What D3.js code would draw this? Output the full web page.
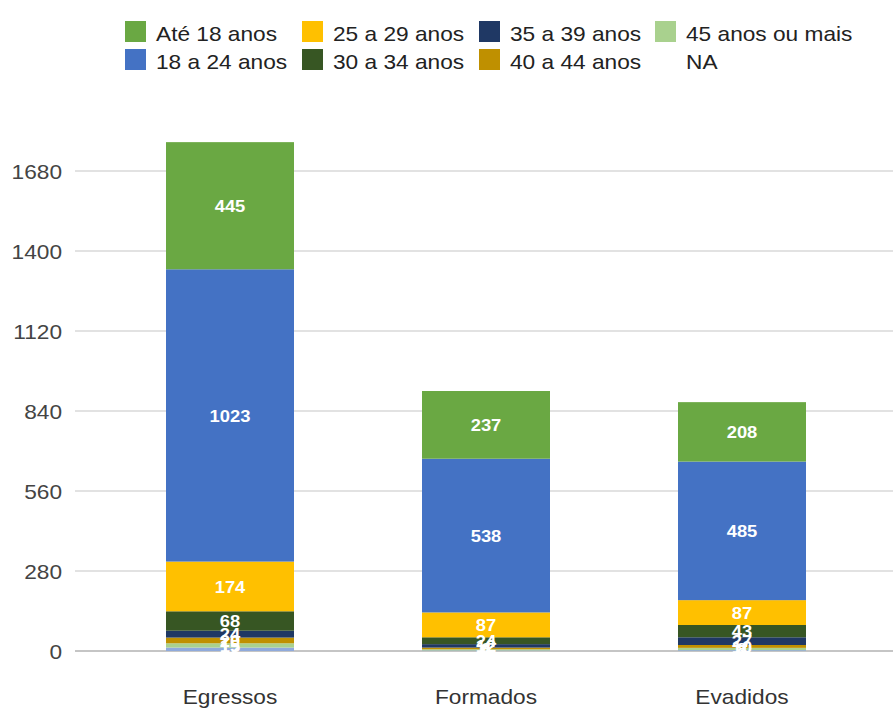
<!DOCTYPE html>
<html>
<head>
<meta charset="utf-8">
<script src="https://cdn.jsdelivr.net/npm/d3@7"></script>
<style>
  body { margin: 0; background: #fff; }
  text { font-family: Arial, "Liberation Sans", sans-serif; }
</style>
</head>
<body>
<div id="grafik"></div>
<script>
// dados
const categorias = ["Egressos", "Formados", "Evadidos"];
const faixas = ["Até 18 anos", "18 a 24 anos", "25 a 29 anos", "30 a 34 anos",
                "35 a 39 anos", "40 a 44 anos", "45 anos ou mais", "NA"];
const cores = ["#6aa843", "#4472c4", "#ffc000", "#375623",
               "#1f3864", "#bf9000", "#a9d18e", "#8faadc"];
// valores por faixa, na ordem das categorias
const ate18   = [445, 237, 208];
const de18a24 = [1023, 538, 485];
const de25a29 = [174, 87, 87];
const de30a34 = [68, 24, 43];
const de35a39 = [24, 12, 27];
const de40a44 = [20, 6, 10];
const mais45  = [15, 4, 8];
const na      = [12, 2, 3];
const yTicks  = [0, 280, 560, 840, 1120, 1400, 1680];

const series = [ate18, de18a24, de25a29, de30a34, de35a39, de40a44, mais45, na];

// tabela para o d3.stack (empilha de baixo: NA ... Até 18)
const tabela = categorias.map((c, i) => {
  const linha = { cat: c };
  faixas.forEach((f, k) => linha[f] = series[k][i]);
  return linha;
});
const ordemPilha = faixas.slice().reverse();
const pilha = d3.stack().keys(ordemPilha)(tabela);

const W = 893, H = 712;
const svg = d3.select("#grafik").append("svg")
  .attr("width", W).attr("height", H);

const x = d3.scaleBand().domain(categorias)
  .range([102, 870]).paddingInner(0.5).paddingOuter(0.25);
const y = d3.scaleLinear().domain([0, 1680]).range([651, 171]);
const cor = d3.scaleOrdinal().domain(faixas).range(cores);

// grade
svg.append("g").selectAll("line").data(yTicks).join("line")
  .attr("x1", 75).attr("x2", W)
  .attr("y1", d => y(d)).attr("y2", d => y(d))
  .attr("stroke", d => d === 0 ? "#8c8c8c" : "#c6c6c6")
  .attr("stroke-width", 1.2);

// eixo y
const eixoY = svg.append("g")
  .attr("transform", "translate(62,0)")
  .call(d3.axisLeft(y).tickValues(yTicks).tickFormat(d3.format("d"))
    .tickSize(0).tickPadding(0));
eixoY.select(".domain").remove();
eixoY.selectAll("text")
  .attr("class", "largo")
  .style("font-size", "21px").attr("fill", "#444").attr("dy", "0.35em");

// barras
const grupos = svg.append("g").selectAll("g").data(pilha).join("g")
  .attr("fill", d => cor(d.key));
grupos.selectAll("rect").data(d => d).join("rect")
  .attr("x", d => x(d.data.cat))
  .attr("width", x.bandwidth())
  .attr("y", d => y(d[1]))
  .attr("height", d => y(d[0]) - y(d[1]));

// rótulos de valor
const rotulos = svg.append("g");
pilha.forEach(s => {
  s.forEach(d => {
    rotulos.append("text")
      .attr("class", "largo")
      .attr("x", x(d.data.cat) + x.bandwidth() / 2)
      .attr("y", (y(d[0]) + y(d[1])) / 2)
      .attr("dy", "0.36em")
      .attr("text-anchor", "middle")
      .attr("fill", "#fff")
      .style("font-size", "17px").style("font-weight", "bold")
      .text(d[1] - d[0]);
  });
});

// eixo x
const eixoX = svg.append("g")
  .attr("transform", "translate(0,651)")
  .call(d3.axisBottom(x).tickSize(0).tickPadding(38));
eixoX.select(".domain").remove();
eixoX.selectAll("text")
  .attr("class", "largo")
  .style("font-size", "21px").attr("fill", "#333");

// legenda (4 colunas, 2 linhas, preenchida por coluna)
const colX = [125, 302, 479, 655];
const legenda = svg.append("g");
faixas.forEach((f, i) => {
  const col = Math.floor(i / 2), lin = i % 2;
  const gx = colX[col], gy = 21 + lin * 28;
  if (f !== "NA") {
    legenda.append("rect").attr("x", gx).attr("y", gy)
      .attr("width", 21).attr("height", 21).attr("fill", cor(f));
  }
  legenda.append("text")
    .attr("class", "largo")
    .attr("x", gx + 31).attr("y", gy + 12).attr("dy", "0.36em")
    .style("font-size", "21px").attr("fill", "#222")
    .text(f);
});

// texto levemente esticado na horizontal, como na imagem original
svg.selectAll("text.largo").each(function () {
  const t = d3.select(this);
  const w = this.getComputedTextLength();
  t.attr("textLength", w * 1.08).attr("lengthAdjust", "spacingAndGlyphs");
});
</script>
</body>
</html>
